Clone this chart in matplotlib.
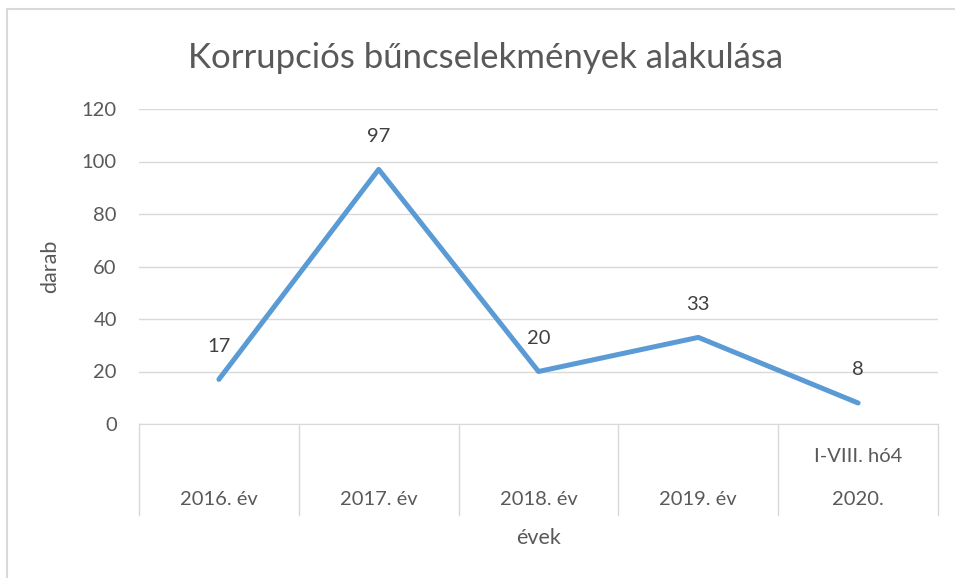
import matplotlib.pyplot as plt
from matplotlib.patches import Rectangle

plt.rcParams['font.family'] = ['Lato', 'DejaVu Sans']

# data
years = ['2016. év', '2017. év', '2018. év', '2019. év', '2020.']
sub_labels = ['', '', '', '', 'I-VIII. hó4']
counts = [17, 97, 20, 33, 8]
y_ticks = [0, 20, 40, 60, 80, 100, 120]

txt = '#595959'
grid = '#D9D9D9'
blue = '#5B9BD5'

fig = plt.figure(figsize=(9.55, 5.78), dpi=100)
fig.patches.append(Rectangle((7 / 955, -0.1), 1.2, 1 - 9 / 578 + 0.1,
                             transform=fig.transFigure, fill=False,
                             edgecolor=grid, linewidth=1.5))
ax = fig.add_axes([139 / 955, 1 - 424 / 578, (938 - 139) / 955, 315 / 578])

x = list(range(len(years)))
ax.plot(x, counts, color=blue, linewidth=3.6, solid_capstyle='round', zorder=3)
for xi, v in zip(x, counts):
    ax.annotate(str(v), (xi, v), xytext=(0, 24), textcoords='offset points',
                ha='center', va='center', fontsize=14.5, color='#404040')

ax.set_xlim(-0.5, len(years) - 0.5)
ax.set_ylim(0, 120)
ax.set_yticks(y_ticks)
ax.yaxis.grid(True, color=grid, linewidth=1)
ax.set_axisbelow(True)
ax.tick_params(axis='y', length=0, pad=16, labelsize=14.5, labelcolor=txt)
ax.set_xticks([])
for s in ['top', 'right', 'left']:
    ax.spines[s].set_visible(False)
ax.spines['bottom'].set_color(grid)

# two-level category axis
tr = ax.get_xaxis_transform()
for b in [i - 0.5 for i in range(len(years) + 1)]:
    ax.plot([b, b], [0, -0.289], transform=tr, color=grid, linewidth=1, clip_on=False)
for xi, lab, sub in zip(x, years, sub_labels):
    ax.text(xi, -0.241, lab, transform=tr, ha='center', va='center', fontsize=14.5, color=txt)
    if sub:
        ax.text(xi, -0.102, sub, transform=tr, ha='center', va='center', fontsize=14.5, color=txt)

ax.text(0.5, -0.362, 'évek', transform=ax.transAxes, ha='center', va='center',
        fontsize=15.5, color=txt)
fig.text(50 / 955, 1 - 266 / 578, 'darab', rotation=90, ha='center', va='center',
         fontsize=15.5, color=txt)
fig.text(486 / 955, 1 - 58 / 578, 'Korrupciós bűncselekmények alakulása',
         ha='center', va='center', fontsize=25, color=txt)

fig.savefig('out.png', dpi=100)
